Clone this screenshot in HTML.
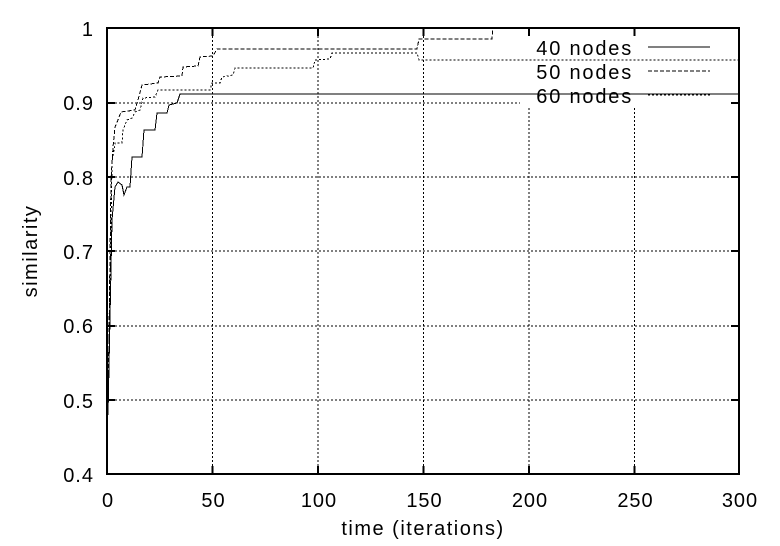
<!DOCTYPE html>
<html><head><style>
html,body{margin:0;padding:0;background:#fff;}
svg{display:block;font-family:"Liberation Sans",sans-serif;}
</style></head><body>
<svg width="780" height="546" viewBox="0 0 780 546" xmlns="http://www.w3.org/2000/svg" shape-rendering="crispEdges">
<g stroke="#000" stroke-width="1" stroke-dasharray="2,2" fill="none">
<line x1="107" y1="400" x2="739" y2="400"/>
<line x1="107" y1="326" x2="739" y2="326"/>
<line x1="107" y1="251" x2="739" y2="251"/>
<line x1="107" y1="177" x2="739" y2="177"/>
<line x1="107" y1="103" x2="520" y2="103"/>
<line x1="212.5" y1="28" x2="212.5" y2="474"/>
<line x1="318" y1="28" x2="318" y2="474"/>
<line x1="423.5" y1="28" x2="423.5" y2="474"/>
<line x1="529" y1="108" x2="529" y2="474"/>
<line x1="634.5" y1="108" x2="634.5" y2="474"/>
</g>
<g stroke="#000" stroke-width="2" fill="none">
<rect x="107" y="28" width="632" height="446"/>
<path d="M107 400h8M107 326h8M107 251h8M107 177h8M107 103h8M739 400h-8M739 326h-8M739 251h-8M739 177h-8M739 103h-8M212.5 474v-8M318 474v-8M423.5 474v-8M529 474v-8M634.5 474v-8M212.5 28v8M318 28v8M423.5 28v8M529 28v8M634.5 28v8"/>
</g>
<polyline fill="none" stroke="#000" stroke-width="1" points="108,415 112,220 115,187 118,182 122,185 124,195 127,187 130,187 132,157 142,157 144,130 155,130 157,113 167,113 169,105 177,103 180,94 739,94"/>
<polyline fill="none" stroke="#000" stroke-width="1" stroke-dasharray="4,2" points="108,410 111,180 113,147 115,127 118,120 121,112 135,110 138,100 142,85 158,83 160,77 182,76 183,67 198,66 200,57 213,56 217,49 417,49 419,39 492,39 493,28 739,28"/>
<polyline fill="none" stroke="#000" stroke-width="1" stroke-dasharray="2,2" points="108,412 112,163 115,143 122,143 123,130 127,120 132,118 135,112 140,110 143,98 155,97 158,90 210,90 212,83 220,83 222,77 233,75 235,68 313,68 315,60 330,59 332,53 417,53 419,60 739,60"/>
<g font-size="20" letter-spacing="1.8" text-anchor="end">
<text x="633" y="55">40 nodes</text>
<text x="633" y="79">50 nodes</text>
<text x="633" y="103">60 nodes</text>
</g>
<line x1="648" y1="47" x2="710" y2="47" stroke="#000"/>
<line x1="648" y1="71" x2="710" y2="71" stroke="#000" stroke-dasharray="4,2"/>
<line x1="648" y1="95" x2="710" y2="95" stroke="#000" stroke-dasharray="2,2"/>
<g font-size="20" letter-spacing="1" text-anchor="end">
<text x="94" y="482">0.4</text>
<text x="94" y="408">0.5</text>
<text x="94" y="333">0.6</text>
<text x="94" y="259">0.7</text>
<text x="94" y="185">0.8</text>
<text x="94" y="110">0.9</text>
<text x="94" y="36">1</text>
</g>
<g font-size="20" letter-spacing="1" text-anchor="middle">
<text x="108" y="507">0</text>
<text x="213.5" y="507">50</text>
<text x="319" y="507">100</text>
<text x="424.5" y="507">150</text>
<text x="530" y="507">200</text>
<text x="635.5" y="507">250</text>
<text x="740" y="507">300</text>
</g>
<g font-size="20" letter-spacing="1.5" text-anchor="middle">
<text x="423" y="535">time (iterations)</text>
<text transform="translate(37,251) rotate(-90)">similarity</text>
</g>
</svg>
</body></html>
